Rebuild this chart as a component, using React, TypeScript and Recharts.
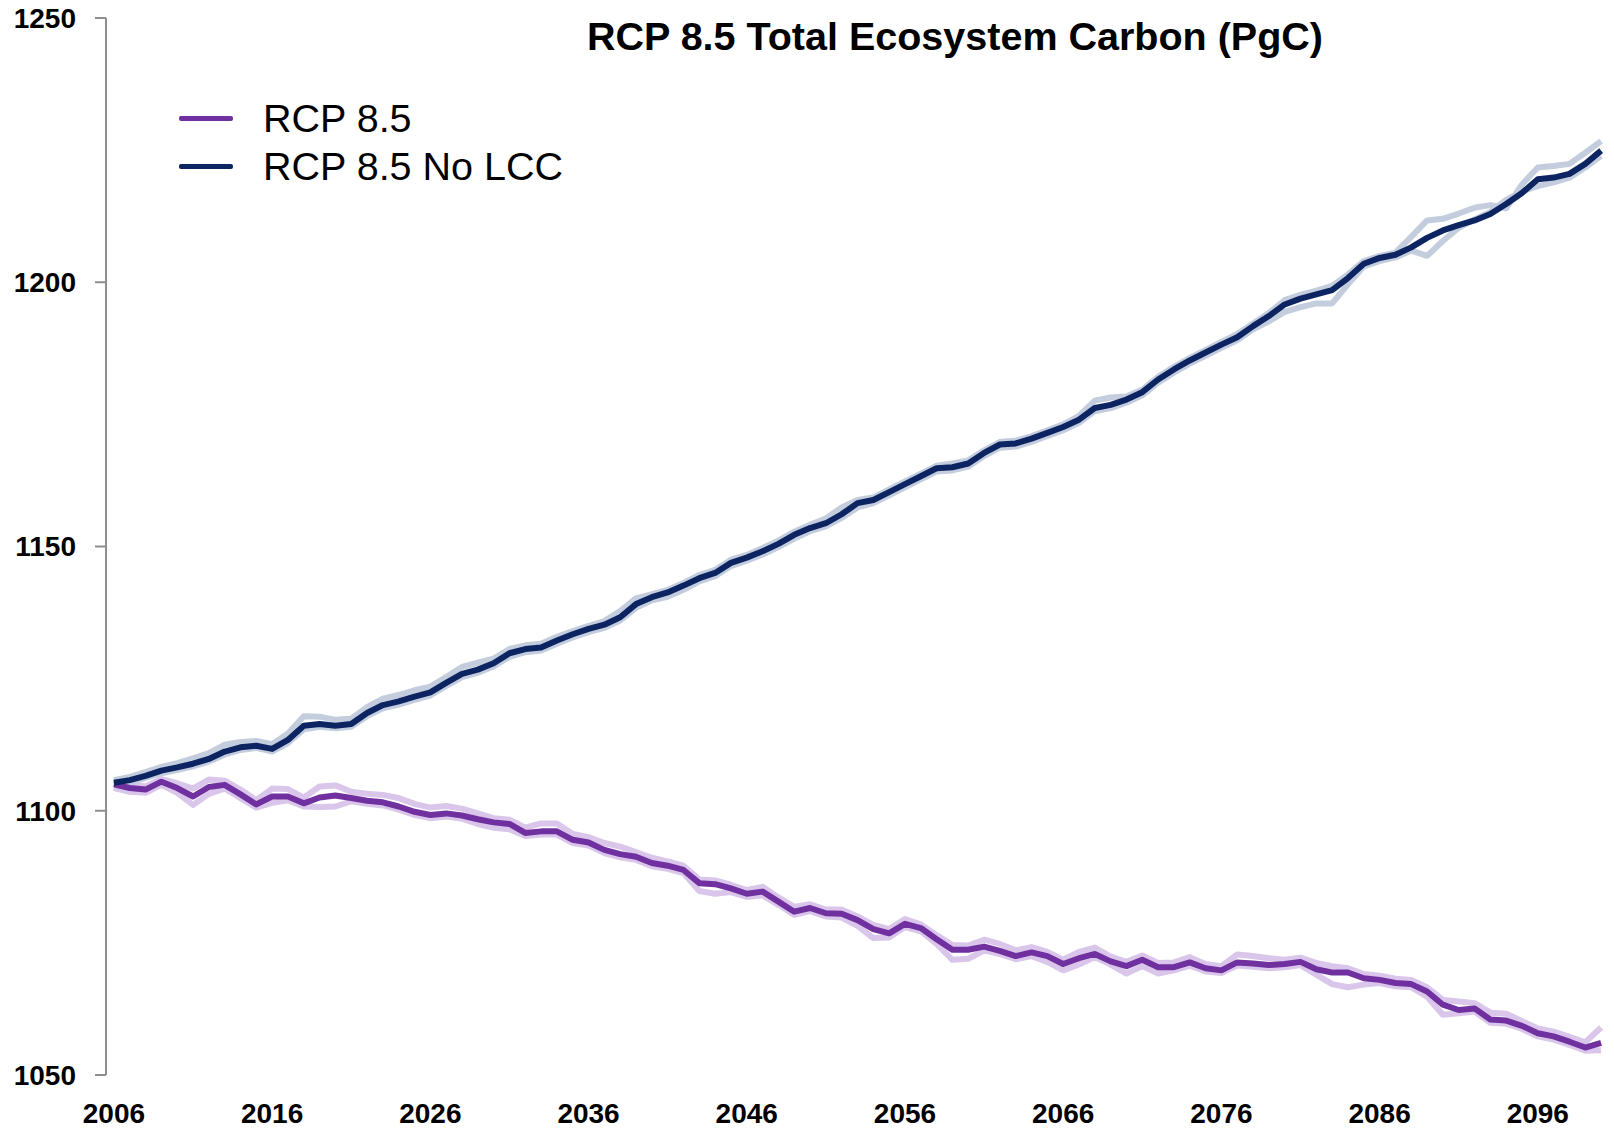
import React from 'react';
import { LineChart, Line, XAxis, YAxis, Legend } from 'recharts';

const FONT = '"Liberation Sans", Arial, sans-serif';

const title = 'RCP 8.5 Total Ecosystem Carbon (PgC)';

const years = [
  2006, 2007, 2008, 2009, 2010, 2011, 2012, 2013, 2014, 2015,
  2016, 2017, 2018, 2019, 2020, 2021, 2022, 2023, 2024, 2025,
  2026, 2027, 2028, 2029, 2030, 2031, 2032, 2033, 2034, 2035,
  2036, 2037, 2038, 2039, 2040, 2041, 2042, 2043, 2044, 2045,
  2046, 2047, 2048, 2049, 2050, 2051, 2052, 2053, 2054, 2055,
  2056, 2057, 2058, 2059, 2060, 2061, 2062, 2063, 2064, 2065,
  2066, 2067, 2068, 2069, 2070, 2071, 2072, 2073, 2074, 2075,
  2076, 2077, 2078, 2079, 2080, 2081, 2082, 2083, 2084, 2085,
  2086, 2087, 2088, 2089, 2090, 2091, 2092, 2093, 2094, 2095,
  2096, 2097, 2098, 2099, 2100,
];

// RCP 8.5 (with land cover change) – ensemble mean
const rcp85 = [
  1105.0, 1104.3, 1104.0, 1105.5, 1104.3, 1102.7, 1104.5, 1104.9, 1103.1, 1101.2,
  1102.7, 1102.7, 1101.4, 1102.5, 1102.9, 1102.4, 1101.9, 1101.6, 1100.8, 1099.8,
  1099.2, 1099.5, 1099.1, 1098.4, 1097.8, 1097.5, 1095.8, 1096.1, 1096.1, 1094.5,
  1094.0, 1092.6, 1091.8, 1091.3, 1090.1, 1089.6, 1088.8, 1086.3, 1086.1, 1085.3,
  1084.3, 1084.7, 1082.8, 1080.9, 1081.6, 1080.6, 1080.5, 1079.3, 1077.6, 1076.8,
  1078.6, 1077.8, 1075.7, 1073.7, 1073.7, 1074.3, 1073.5, 1072.5, 1073.2, 1072.5,
  1071.0, 1072.1, 1072.9, 1071.5, 1070.6, 1071.8, 1070.4, 1070.4, 1071.3, 1070.2,
  1069.8, 1071.3, 1071.1, 1070.8, 1071.0, 1071.4, 1070.0, 1069.4, 1069.4, 1068.3,
  1068.0, 1067.4, 1067.2, 1065.8, 1063.3, 1062.3, 1062.6, 1060.5, 1060.3, 1059.3,
  1057.9, 1057.3, 1056.3, 1055.2, 1056.1,
];

// RCP 8.5 – individual ensemble members (faint)
const rcp85Member1 = [
  1105.6, 1105.0, 1104.6, 1106.0, 1105.2, 1104.2, 1105.9, 1105.7, 1104.0, 1102.0,
  1104.2, 1104.1, 1102.5, 1104.6, 1104.8, 1103.6, 1103.2, 1103.0, 1102.4, 1101.3,
  1100.6, 1100.9, 1100.4, 1099.5, 1098.6, 1098.3, 1096.8, 1097.6, 1097.6, 1095.6,
  1095.0, 1093.9, 1093.2, 1092.2, 1091.1, 1090.4, 1089.6, 1087.0, 1086.8, 1086.0,
  1085.0, 1085.6, 1083.6, 1081.8, 1082.3, 1081.3, 1081.3, 1080.0, 1078.4, 1077.6,
  1079.5, 1078.5, 1076.5, 1074.6, 1074.5, 1075.6, 1074.8, 1073.6, 1074.2, 1073.3,
  1071.8, 1073.3, 1074.1, 1072.4, 1071.4, 1072.6, 1071.2, 1071.3, 1072.3, 1071.0,
  1070.6, 1072.8, 1072.5, 1072.1, 1071.8, 1072.2, 1071.2, 1070.6, 1070.2, 1069.1,
  1068.8, 1068.2, 1068.0, 1066.6, 1064.2, 1063.9, 1063.6, 1061.8, 1061.6, 1060.2,
  1058.8, 1058.2, 1057.2, 1056.2, 1059.0,
];
const rcp85Member2 = [
  1104.3, 1103.6, 1103.4, 1104.9, 1103.4, 1101.1, 1103.2, 1104.2, 1102.4, 1100.6,
  1101.5, 1102.0, 1100.8, 1100.7, 1100.8, 1101.8, 1101.3, 1101.0, 1100.2, 1099.2,
  1098.6, 1098.9, 1098.5, 1097.5, 1096.8, 1096.5, 1095.2, 1095.5, 1095.5, 1093.9,
  1093.4, 1092.0, 1091.2, 1090.7, 1089.5, 1089.0, 1088.2, 1084.8, 1084.3, 1084.6,
  1083.7, 1084.0, 1082.2, 1080.3, 1081.0, 1080.0, 1079.8, 1078.2, 1075.9, 1076.0,
  1078.0, 1077.2, 1074.8, 1071.8, 1072.0, 1073.6, 1072.9, 1071.9, 1072.5, 1071.4,
  1069.8, 1070.9, 1072.3, 1070.9, 1069.2, 1070.6, 1069.2, 1069.8, 1070.7, 1069.6,
  1069.3, 1070.7, 1070.5, 1070.2, 1070.4, 1070.8, 1069.0, 1067.2, 1066.6, 1067.1,
  1067.4, 1066.8, 1066.6, 1064.8, 1061.4, 1061.7, 1062.0, 1059.9, 1059.7, 1058.7,
  1057.3, 1056.7, 1055.7, 1054.6, 1054.7,
];

// RCP 8.5 No LCC – ensemble mean
const noLcc = [
  1105.3, 1105.8, 1106.6, 1107.6, 1108.2, 1108.9, 1109.8, 1111.2, 1112.0, 1112.3,
  1111.7, 1113.4, 1116.1, 1116.4, 1116.1, 1116.4, 1118.5, 1120.0, 1120.7, 1121.6,
  1122.4, 1124.2, 1125.9, 1126.7, 1127.9, 1129.8, 1130.6, 1130.9, 1132.2, 1133.4,
  1134.4, 1135.2, 1136.6, 1139.1, 1140.4, 1141.3, 1142.6, 1144.0, 1145.0, 1146.9,
  1147.9, 1149.1, 1150.5, 1152.2, 1153.5, 1154.4, 1156.1, 1158.2, 1158.8, 1160.3,
  1161.8, 1163.3, 1164.8, 1165.0, 1165.7, 1167.7, 1169.3, 1169.5, 1170.4, 1171.5,
  1172.6, 1174.0, 1176.2, 1176.8, 1177.8, 1179.2, 1181.6, 1183.5, 1185.2, 1186.7,
  1188.2, 1189.6, 1191.7, 1193.6, 1195.8, 1196.9, 1197.7, 1198.5, 1200.8, 1203.5,
  1204.6, 1205.2, 1206.6, 1208.4, 1209.8, 1210.8, 1211.7, 1212.9, 1214.8, 1216.9,
  1219.5, 1219.8, 1220.5, 1222.4, 1224.9,
];

// RCP 8.5 No LCC – individual ensemble members (faint)
const noLccMember1 = [
  1105.8, 1106.4, 1107.3, 1108.3, 1109.0, 1109.9, 1110.9, 1112.5, 1113.0, 1113.2,
  1112.6, 1114.6, 1117.9, 1117.8, 1117.2, 1117.4, 1119.6, 1121.2, 1121.9, 1122.8,
  1123.5, 1125.3, 1127.2, 1128.0, 1128.8, 1130.6, 1131.3, 1131.6, 1132.9, 1134.0,
  1135.0, 1135.9, 1137.8, 1140.2, 1141.0, 1141.8, 1143.1, 1144.6, 1145.6, 1147.5,
  1148.4, 1149.7, 1151.1, 1152.8, 1154.1, 1155.3, 1157.4, 1158.8, 1159.3, 1160.8,
  1162.3, 1163.8, 1165.3, 1165.7, 1166.3, 1168.2, 1169.8, 1170.0, 1170.9, 1172.0,
  1173.1, 1174.7, 1177.6, 1178.2, 1178.4, 1179.7, 1182.1, 1184.0, 1185.7, 1187.2,
  1188.7, 1190.2, 1192.2, 1194.2, 1196.6, 1197.6, 1198.4, 1199.3, 1201.5, 1204.0,
  1205.0, 1205.6, 1208.6, 1211.7, 1212.0, 1213.0, 1214.1, 1214.6, 1214.0, 1218.5,
  1221.7, 1222.0, 1222.4, 1224.5, 1226.7,
];
const noLccMember2 = [
  1104.9, 1105.4, 1106.2, 1107.1, 1107.7, 1108.4, 1109.3, 1110.6, 1111.5, 1111.9,
  1111.2, 1112.8, 1115.4, 1115.9, 1115.6, 1115.9, 1117.9, 1119.4, 1120.1, 1121.0,
  1121.8, 1123.6, 1125.3, 1126.1, 1127.3, 1129.1, 1130.0, 1130.3, 1131.6, 1132.8,
  1133.8, 1134.6, 1136.0, 1138.4, 1139.8, 1140.5, 1141.8, 1143.4, 1144.4, 1146.3,
  1147.3, 1148.5, 1149.9, 1151.5, 1152.9, 1153.8, 1155.4, 1157.4, 1158.2, 1159.7,
  1161.2, 1162.7, 1164.2, 1164.4, 1165.1, 1167.1, 1168.7, 1168.9, 1169.8, 1170.9,
  1172.0, 1173.4, 1175.6, 1176.2, 1177.2, 1178.6, 1181.0, 1182.9, 1184.6, 1186.1,
  1187.6, 1189.0, 1191.1, 1192.6, 1194.4, 1195.3, 1196.0, 1196.0, 1199.6, 1203.0,
  1204.0, 1204.7, 1206.0, 1205.0, 1207.8, 1210.3, 1211.9, 1213.3, 1215.6, 1217.2,
  1218.2, 1218.9, 1219.8, 1221.7, 1223.9,
];

const yTicks = [1050, 1100, 1150, 1200, 1250];
const xLabelTicks = [2006, 2016, 2026, 2036, 2046, 2056, 2066, 2076, 2086, 2096];
// category boundaries (Excel-style tick marks between categories, every 5 years)
const xMarkTicks = [
  2005.5, 2010.5, 2015.5, 2020.5, 2025.5, 2030.5, 2035.5, 2040.5, 2045.5, 2050.5,
  2055.5, 2060.5, 2065.5, 2070.5, 2075.5, 2080.5, 2085.5, 2090.5, 2095.5, 2100.5,
];
const xDomain = [2005.5, 2100.5];
const yDomain = [1050, 1250];

const legendItems = [
  { name: 'RCP 8.5', color: '#7030a0' },
  { name: 'RCP 8.5 No LCC', color: '#0c2461' },
];

const data = years.map((year, i) => ({
  year,
  rcp85: rcp85[i],
  rcp85Member1: rcp85Member1[i],
  rcp85Member2: rcp85Member2[i],
  noLcc: noLcc[i],
  noLccMember1: noLccMember1[i],
  noLccMember2: noLccMember2[i],
}));

const AXIS = '#8e8e8e';

const emptyTick = () => <g />;

const renderLegend = () => (
  <div style={{ fontFamily: FONT, fontSize: 39.5, color: '#000' }}>
    {legendItems.map((item) => (
      <div
        key={item.name}
        style={{ display: 'flex', alignItems: 'center', height: 47.5, lineHeight: '47.5px', whiteSpace: 'nowrap' }}
      >
        <div
          style={{
            width: 54,
            height: 5,
            background: item.color,
            marginRight: 30,
            borderRadius: 2,
          }}
        />
        <span>{item.name}</span>
      </div>
    ))}
  </div>
);

export default function App() {
  return (
    <div style={{ position: 'absolute', left: 0, top: 0, width: 1614, height: 1131, background: '#fff' }}>
      <LineChart
        width={1614}
        height={1131}
        data={data}
        margin={{ top: 18, right: 5, bottom: 0, left: 0 }}
      >
        <XAxis
          xAxisId="x"
          dataKey="year"
          type="number"
          domain={xDomain}
          ticks={xMarkTicks}
          interval={0}
          allowDataOverflow
          height={0}
          tickSize={10}
          tick={emptyTick}
          axisLine={{ stroke: AXIS, strokeWidth: 2 }}
          tickLine={{ stroke: AXIS, strokeWidth: 2 }}
        />
        <XAxis
          xAxisId="lbl"
          dataKey="year"
          type="number"
          domain={xDomain}
          ticks={xLabelTicks}
          interval={0}
          allowDataOverflow
          height={56}
          axisLine={false}
          tickLine={false}
          tickSize={0}
          tickMargin={28}
          tick={{ fontSize: 28, fontWeight: 700, fill: '#000', fontFamily: FONT }}
        />
        <YAxis
          domain={yDomain}
          ticks={yTicks}
          interval={0}
          allowDataOverflow
          width={106}
          tickSize={11}
          tickMargin={19}
          axisLine={{ stroke: AXIS, strokeWidth: 2 }}
          tickLine={{ stroke: AXIS, strokeWidth: 2 }}
          tick={{ fontSize: 28, fontWeight: 700, fill: '#000', fontFamily: FONT }}
        />
        <Legend
          content={renderLegend}
          layout="horizontal"
          verticalAlign="middle"
          align="center"
          wrapperStyle={{ left: 179, top: 95, width: 600, height: 'auto' }}
        />
        <Line xAxisId="x" dataKey="rcp85Member1" stroke="#d9c6ea" strokeWidth={6} dot={false} activeDot={false} isAnimationActive={false} strokeLinejoin="round" />
        <Line xAxisId="x" dataKey="rcp85Member2" stroke="#d9c6ea" strokeWidth={6} dot={false} activeDot={false} isAnimationActive={false} strokeLinejoin="round" />
        <Line xAxisId="x" dataKey="noLccMember1" stroke="#c3cddd" strokeWidth={6} dot={false} activeDot={false} isAnimationActive={false} strokeLinejoin="round" />
        <Line xAxisId="x" dataKey="noLccMember2" stroke="#c3cddd" strokeWidth={6} dot={false} activeDot={false} isAnimationActive={false} strokeLinejoin="round" />
        <Line xAxisId="x" dataKey="rcp85" name="RCP 8.5" stroke="#7030a0" strokeWidth={6} dot={false} activeDot={false} isAnimationActive={false} strokeLinejoin="round" />
        <Line xAxisId="x" dataKey="noLcc" name="RCP 8.5 No LCC" stroke="#0c2461" strokeWidth={6} dot={false} activeDot={false} isAnimationActive={false} strokeLinejoin="round" />
      </LineChart>
      <div
        style={{
          position: 'absolute',
          left: 555,
          top: 16,
          width: 800,
          textAlign: 'center',
          fontFamily: FONT,
          fontWeight: 700,
          fontSize: 39.5,
          lineHeight: '40px',
          color: '#000',
          whiteSpace: 'nowrap',
        }}
      >
        {title}
      </div>
    </div>
  );
}
